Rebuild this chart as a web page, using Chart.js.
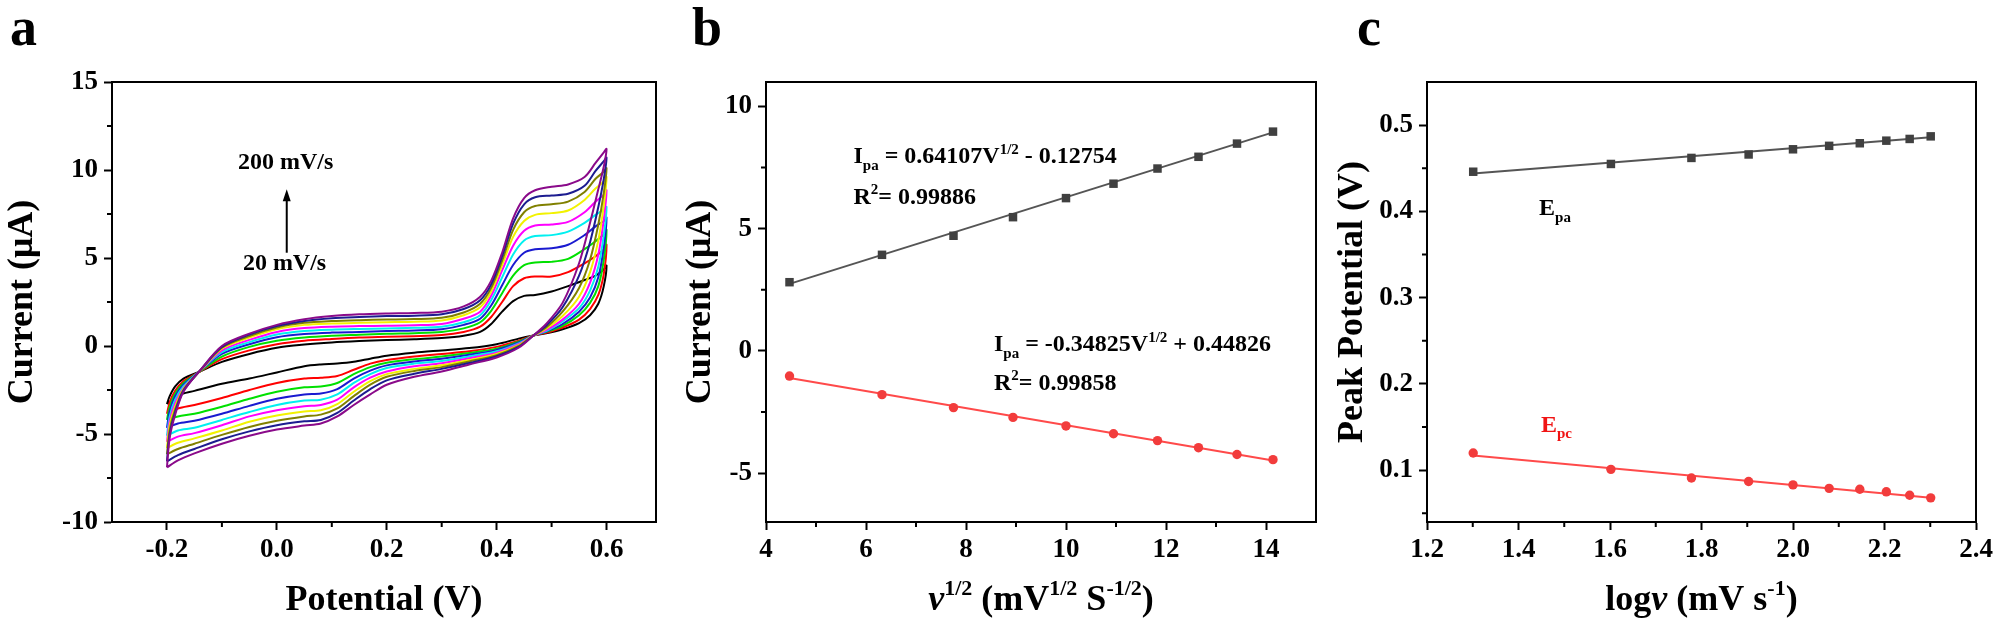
<!DOCTYPE html>
<html>
<head>
<meta charset="utf-8">
<script src="https://cdn.jsdelivr.net/npm/chart.js@4.4.1/dist/chart.umd.min.js"></script>
<style>
  body { margin: 0; background: #fff; }
  #wrap { position: relative; width: 1998px; height: 625px; }
  canvas { position: absolute; top: 0; }
</style>
</head>
<body>
<div id="wrap">
  <canvas id="cva" width="666" height="625" style="left:0px"></canvas>
  <canvas id="cvb" width="666" height="625" style="left:666px"></canvas>
  <canvas id="cvc" width="666" height="625" style="left:1332px"></canvas>
</div>
<script>
// ---- panel a : cyclic voltammograms 20..200 mV/s ----
const scanRates = [20, 40, 60, 80, 100, 120, 140, 160, 180, 200];
const cvColors = ['#000000', '#ff0000', '#00e000', '#1a1ad0', '#00f0f0', '#ff00ff', '#f2f200', '#808000', '#1c1c90', '#8a0a8a'];

// potentials of the forward (anodic) and reverse (cathodic) sweeps
const potentialFwd = [-0.2, -0.195, -0.185, -0.17, -0.14, -0.1, -0.05, 0.0, 0.05, 0.1, 0.15, 0.2, 0.25, 0.3, 0.34, 0.37, 0.39, 0.41, 0.43, 0.45, 0.47, 0.5, 0.53, 0.56, 0.58, 0.595, 0.6];
const potentialRev = [0.595, 0.585, 0.57, 0.55, 0.52, 0.49, 0.467, 0.44, 0.4, 0.35, 0.3, 0.25, 0.2, 0.17, 0.14, 0.11, 0.08, 0.05, 0.0, -0.05, -0.1, -0.15, -0.18, -0.2];

const fwd20  = [-3.3, -2.85, -2.3, -1.85, -1.45, -0.9, -0.45, -0.1, 0.08, 0.2, 0.28, 0.34, 0.38, 0.45, 0.58, 0.8, 1.25, 1.95, 2.55, 2.85, 2.9, 3.1, 3.4, 3.75, 4.0, 4.35, 4.57];
const fwd40  = [-3.85, -3.2, -2.55, -2.0, -1.45, -0.75, -0.25, 0.1, 0.3, 0.4, 0.48, 0.52, 0.56, 0.62, 0.8, 1.1, 1.65, 2.5, 3.4, 3.85, 3.95, 3.95, 4.2, 4.7, 5.1, 5.5, 5.75];
const fwd60  = [-4.2, -3.45, -2.7, -2.1, -1.45, -0.6, -0.05, 0.3, 0.48, 0.58, 0.64, 0.7, 0.73, 0.8, 1.0, 1.35, 2.0, 3.0, 4.0, 4.6, 4.75, 4.78, 4.95, 5.5, 5.95, 6.35, 6.6];
const fwd80  = [-4.65, -3.7, -2.85, -2.2, -1.42, -0.45, 0.1, 0.5, 0.68, 0.76, 0.8, 0.85, 0.88, 0.95, 1.2, 1.55, 2.3, 3.45, 4.6, 5.3, 5.5, 5.55, 5.75, 6.3, 6.8, 7.1, 7.3];
const fwd100 = [-5.1, -4.0, -3.05, -2.3, -1.42, -0.35, 0.22, 0.65, 0.85, 0.93, 0.97, 1.0, 1.03, 1.1, 1.35, 1.75, 2.6, 3.9, 5.2, 6.0, 6.25, 6.3, 6.5, 7.0, 7.45, 7.75, 7.9];
const fwd120 = [-5.45, -4.25, -3.25, -2.4, -1.42, -0.25, 0.35, 0.8, 1.02, 1.1, 1.13, 1.15, 1.18, 1.25, 1.55, 1.95, 2.85, 4.3, 5.7, 6.55, 6.85, 6.9, 7.05, 7.6, 8.2, 8.6, 8.85];
const fwd140 = [-5.8, -4.5, -3.45, -2.45, -1.42, -0.15, 0.48, 0.95, 1.2, 1.28, 1.32, 1.35, 1.38, 1.45, 1.75, 2.2, 3.1, 4.6, 6.2, 7.1, 7.45, 7.55, 7.7, 8.3, 8.95, 9.35, 9.6];
const fwd160 = [-6.15, -4.75, -3.6, -2.5, -1.41, -0.1, 0.56, 1.05, 1.32, 1.42, 1.47, 1.5, 1.53, 1.6, 1.9, 2.4, 3.3, 4.85, 6.6, 7.6, 7.95, 8.05, 8.2, 8.75, 9.5, 9.9, 10.1];
const fwd180 = [-6.55, -5.0, -3.75, -2.55, -1.4, -0.05, 0.65, 1.13, 1.42, 1.58, 1.65, 1.7, 1.72, 1.8, 2.1, 2.6, 3.5, 5.1, 6.95, 8.05, 8.45, 8.55, 8.65, 9.1, 9.95, 10.5, 10.7];
const fwd200 = [-6.9, -5.2, -3.9, -2.6, -1.4, 0.0, 0.7, 1.2, 1.52, 1.7, 1.8, 1.85, 1.88, 1.95, 2.25, 2.8, 3.7, 5.3, 7.25, 8.4, 8.85, 9.05, 9.18, 9.6, 10.4, 11.0, 11.2];

const rev20  = [3.4, 2.4, 1.75, 1.3, 0.95, 0.72, 0.6, 0.42, 0.1, -0.12, -0.25, -0.38, -0.55, -0.72, -0.9, -1.0, -1.05, -1.15, -1.5, -1.85, -2.15, -2.55, -2.8, -3.3];
const rev40  = [4.1, 2.9, 2.1, 1.5, 1.05, 0.75, 0.6, 0.3, -0.05, -0.3, -0.45, -0.6, -0.8, -1.0, -1.35, -1.7, -1.8, -1.85, -2.1, -2.5, -2.95, -3.35, -3.55, -3.85];
const rev60  = [4.9, 3.4, 2.45, 1.75, 1.15, 0.8, 0.6, 0.25, -0.15, -0.4, -0.6, -0.75, -0.95, -1.2, -1.6, -2.1, -2.3, -2.35, -2.6, -3.0, -3.45, -3.85, -4.0, -4.2];
const rev80  = [5.6, 3.9, 2.75, 1.95, 1.25, 0.82, 0.6, 0.2, -0.22, -0.5, -0.72, -0.88, -1.1, -1.4, -1.85, -2.45, -2.7, -2.75, -3.0, -3.4, -3.85, -4.25, -4.4, -4.65];
const rev100 = [6.3, 4.5, 3.15, 2.15, 1.4, 0.85, 0.6, 0.15, -0.3, -0.6, -0.85, -1.0, -1.25, -1.6, -2.1, -2.75, -3.05, -3.1, -3.35, -3.75, -4.2, -4.65, -4.8, -5.1];
const rev120 = [7.2, 5.2, 3.6, 2.4, 1.5, 0.9, 0.6, 0.1, -0.38, -0.7, -0.98, -1.15, -1.45, -1.8, -2.35, -3.05, -3.35, -3.42, -3.65, -4.0, -4.5, -4.95, -5.15, -5.45];
const rev140 = [8.0, 6.0, 4.2, 2.8, 1.7, 0.98, 0.6, 0.05, -0.45, -0.8, -1.1, -1.3, -1.6, -2.0, -2.6, -3.3, -3.65, -3.72, -3.95, -4.3, -4.8, -5.25, -5.5, -5.8];
const rev160 = [8.7, 6.9, 4.9, 3.3, 1.95, 1.05, 0.6, 0.0, -0.52, -0.88, -1.2, -1.42, -1.75, -2.2, -2.85, -3.55, -3.9, -4.0, -4.25, -4.6, -5.05, -5.55, -5.85, -6.15];
const rev180 = [9.5, 7.9, 5.9, 4.0, 2.2, 1.15, 0.6, -0.05, -0.58, -0.97, -1.3, -1.58, -1.95, -2.45, -3.1, -3.8, -4.2, -4.28, -4.5, -4.85, -5.3, -5.85, -6.2, -6.55];
const rev200 = [10.2, 8.9, 7.0, 4.7, 2.45, 1.25, 0.6, -0.1, -0.65, -1.05, -1.45, -1.75, -2.2, -2.75, -3.35, -4.0, -4.4, -4.52, -4.75, -5.1, -5.55, -6.1, -6.5, -6.9];

const cvFwd = [fwd20, fwd40, fwd60, fwd80, fwd100, fwd120, fwd140, fwd160, fwd180, fwd200];
const cvRev = [rev20, rev40, rev60, rev80, rev100, rev120, rev140, rev160, rev180, rev200];

const aTicksX = [-0.2, 0.0, 0.2, 0.4, 0.6];
const aMinorX = [-0.1, 0.1, 0.3, 0.5];
const aTicksY = [-10, -5, 0, 5, 10, 15];
const aMinorY = [-7.5, -2.5, 2.5, 7.5, 12.5];

// ---- panel b : peak current vs sqrt(scan rate) ----
const sqrtRate = [4.47, 6.32, 7.75, 8.94, 10.0, 10.95, 11.83, 12.65, 13.42, 14.14];
const ipa = [2.81, 3.93, 4.71, 5.47, 6.25, 6.84, 7.46, 7.94, 8.48, 8.97];
const ipc = [-1.03, -1.79, -2.32, -2.72, -3.07, -3.39, -3.67, -3.96, -4.24, -4.45];
const fitSqrtX = [4.47, 14.14];
const ipaFit = [2.74, 8.94];
const ipcFit = [-1.11, -4.48];
const bTicksX = [4, 6, 8, 10, 12, 14];
const bMinorX = [5, 7, 9, 11, 13];
const bTicksY = [-5, 0, 5, 10];
const bMinorY = [-2.5, 2.5, 7.5];

// ---- panel c : peak potential vs log(scan rate) ----
const logRate = [1.301, 1.602, 1.778, 1.903, 2.0, 2.079, 2.146, 2.204, 2.255, 2.301];
const epa = [0.446, 0.455, 0.462, 0.466, 0.472, 0.476, 0.479, 0.482, 0.484, 0.487];
const epc = [0.120, 0.101, 0.091, 0.087, 0.083, 0.079, 0.078, 0.075, 0.071, 0.068];
const fitLogX = [1.301, 2.301];
const epaFit = [0.444, 0.486];
const epcFit = [0.117, 0.068];
const cTicksX = [1.2, 1.4, 1.6, 1.8, 2.0, 2.2, 2.4];
const cMinorX = [1.3, 1.5, 1.7, 1.9, 2.1, 2.3];
const cTicksY = [0.1, 0.2, 0.3, 0.4, 0.5];
const cMinorY = [0.05, 0.15, 0.25, 0.35, 0.45];

const SERIF = '"Liberation Serif", "Times New Roman", serif';
Chart.defaults.font.family = SERIF;
Chart.defaults.color = '#000';

function pts(xs, ys) { return xs.map((x, i) => ({ x: x, y: ys[i] })); }

// text with sub/superscripts: parts = [[text, kind]]
function richFont(kind, size) {
  const small = kind === 'sub' || kind === 'sup';
  return (kind === 'i' ? 'italic ' : '') + 'bold ' + (small ? Math.round(size * 0.62) : size) + 'px ' + SERIF;
}
function drawRich(ctx, parts, x, cy, size, align) {
  const ws = parts.map(p => { ctx.font = richFont(p[1], size); return ctx.measureText(p[0]).width; });
  const total = ws.reduce((s, w) => s + w, 0);
  let cx = align === 'left' ? x : x - total / 2;
  const base = cy + size * 0.33;
  ctx.textBaseline = 'alphabetic';
  ctx.textAlign = 'left';
  parts.forEach((p, i) => {
    ctx.font = richFont(p[1], size);
    const dy = p[1] === 'sub' ? size * 0.28 : (p[1] === 'sup' ? -size * 0.4 : 0);
    ctx.fillText(p[0], cx, base + dy);
    cx += ws[i];
  });
}

function decor(spec) {
  return {
    id: 'decor',
    afterDraw(chart) {
      const ctx = chart.ctx, a = chart.chartArea, sx = chart.scales.x, sy = chart.scales.y;
      ctx.save();
      ctx.strokeStyle = '#000';
      ctx.lineWidth = 2;
      ctx.strokeRect(a.left, a.top, a.right - a.left, a.bottom - a.top);
      ctx.beginPath();
      spec.minorX.forEach(v => { const p = sx.getPixelForValue(v); ctx.moveTo(p, a.bottom); ctx.lineTo(p, a.bottom + 5); });
      spec.minorY.forEach(v => { const p = sy.getPixelForValue(v); ctx.moveTo(a.left, p); ctx.lineTo(a.left - 5, p); });
      ctx.stroke();

      ctx.fillStyle = '#000';
      ctx.font = 'bold 54px ' + SERIF;
      ctx.textBaseline = 'alphabetic';
      ctx.fillText(spec.letter, spec.letterX, 45);

      drawRich(ctx, spec.xTitle, (a.left + a.right) / 2, 598, 36, 'center');
      ctx.save();
      ctx.translate(spec.yTitleX, (a.top + a.bottom) / 2);
      ctx.rotate(-Math.PI / 2);
      drawRich(ctx, spec.yTitle, 0, 0, 36, 'center');
      ctx.restore();

      (spec.notes || []).forEach(n => {
        ctx.fillStyle = n.color || '#000';
        drawRich(ctx, n.parts, sx.getPixelForValue(n.x), sy.getPixelForValue(n.y), 24, n.align || 'left');
      });

      if (spec.arrow) {
        const ax = sx.getPixelForValue(spec.arrow.x);
        const y0 = sy.getPixelForValue(spec.arrow.y[0]);
        const y1 = sy.getPixelForValue(spec.arrow.y[1]);
        ctx.fillStyle = '#000';
        ctx.beginPath();
        ctx.moveTo(ax, y0);
        ctx.lineTo(ax, y1 + 10);
        ctx.stroke();
        ctx.beginPath();
        ctx.moveTo(ax, y1);
        ctx.lineTo(ax - 4, y1 + 12);
        ctx.lineTo(ax + 4, y1 + 12);
        ctx.closePath();
        ctx.fill();
      }
      ctx.restore();
    }
  };
}

function xAxis(min, max, ticks, fmt) {
  return {
    type: 'linear', min: min, max: max,
    afterBuildTicks: s => { s.ticks = ticks.map(v => ({ value: v })); },
    afterFit: s => { s.height = 103; },
    ticks: { callback: v => fmt(v), font: { size: 27, weight: 'bold' }, color: '#000', padding: 4, maxRotation: 0, autoSkip: false },
    grid: { drawOnChartArea: false, drawTicks: true, tickLength: 8, tickWidth: 2, tickColor: '#000' },
    border: { display: true, width: 2, color: '#000' }
  };
}
function yAxis(min, max, ticks, fmt, width) {
  return {
    type: 'linear', min: min, max: max,
    afterBuildTicks: s => { s.ticks = ticks.map(v => ({ value: v })); },
    afterFit: s => { s.width = width; },
    ticks: { callback: v => fmt(v), font: { size: 27, weight: 'bold' }, color: '#000', padding: 6, autoSkip: false },
    grid: { drawOnChartArea: false, drawTicks: true, tickLength: 8, tickWidth: 2, tickColor: '#000' },
    border: { display: true, width: 2, color: '#000' }
  };
}
function baseOptions(rightPad, scales) {
  return {
    responsive: false, animation: false, devicePixelRatio: 1,
    layout: { padding: { left: 0, right: rightPad, top: 82, bottom: 0 } },
    plugins: { legend: { display: false }, tooltip: { enabled: false } },
    scales: scales
  };
}

// panel a
const cvSets = scanRates.map((r, i) => ({
  label: r + ' mV/s',
  data: pts(potentialFwd, cvFwd[i]).concat(pts(potentialRev, cvRev[i])),
  showLine: true, borderColor: cvColors[i], borderWidth: 2, pointRadius: 0,
  tension: 0.3, fill: false, order: 10 - i
}));
new Chart(document.getElementById('cva'), {
  type: 'scatter',
  data: { datasets: cvSets },
  options: baseOptions(10, {
    x: xAxis(-0.3, 0.69, aTicksX, v => v.toFixed(1)),
    y: yAxis(-10, 15, aTicksY, v => String(v), 112)
  }),
  plugins: [decor({
    letter: 'a', letterX: 10, yTitleX: 20, minorX: aMinorX, minorY: aMinorY,
    xTitle: [['Potential (V)', '']],
    yTitle: [['Current (\u03bcA)', '']],
    notes: [
      { x: 0.016, y: 10.5, align: 'center', parts: [['200 mV/s', '']] },
      { x: 0.014, y: 4.75, align: 'center', parts: [['20 mV/s', '']] }
    ],
    arrow: { x: 0.018, y: [5.3, 8.9] }
  })]
});

// panel b
new Chart(document.getElementById('cvb'), {
  type: 'scatter',
  data: { datasets: [
    { data: pts(sqrtRate, ipa), pointStyle: 'rect', pointRadius: 6, backgroundColor: '#404040', borderColor: '#404040', borderWidth: 0, order: 0 },
    { data: pts(sqrtRate, ipc), pointStyle: 'circle', pointRadius: 4.7, backgroundColor: '#f23c3c', borderColor: '#f23c3c', borderWidth: 0, order: 0 },
    { data: pts(fitSqrtX, ipaFit), showLine: true, borderColor: '#555555', borderWidth: 2, pointRadius: 0, order: 1 },
    { data: pts(fitSqrtX, ipcFit), showLine: true, borderColor: '#ff4a4a', borderWidth: 2, pointRadius: 0, order: 1 }
  ] },
  options: baseOptions(16, {
    x: xAxis(4, 15, bTicksX, v => String(v)),
    y: yAxis(-7, 11, bTicksY, v => String(v), 100)
  }),
  plugins: [decor({
    letter: 'b', letterX: 26, yTitleX: 32, minorX: bMinorX, minorY: bMinorY,
    xTitle: [['\u03bd', 'i'], ['1/2', 'sup'], [' (mV', ''], ['1/2', 'sup'], [' S', ''], ['-1/2', 'sup'], [')', '']],
    yTitle: [['Current (\u03bcA)', '']],
    notes: [
      { x: 5.75, y: 8.0, parts: [['I', ''], ['pa', 'sub'], [' = 0.64107V', ''], ['1/2', 'sup'], [' - 0.12754', '']] },
      { x: 5.75, y: 6.33, parts: [['R', ''], ['2', 'sup'], ['= 0.99886', '']] },
      { x: 8.56, y: 0.31, parts: [['I', ''], ['pa', 'sub'], [' = -0.34825V', ''], ['1/2', 'sup'], [' + 0.44826', '']] },
      { x: 8.56, y: -1.28, parts: [['R', ''], ['2', 'sup'], ['= 0.99858', '']] }
    ]
  })]
});

// panel c
new Chart(document.getElementById('cvc'), {
  type: 'scatter',
  data: { datasets: [
    { data: pts(logRate, epa), pointStyle: 'rect', pointRadius: 6, backgroundColor: '#404040', borderColor: '#404040', borderWidth: 0, order: 0 },
    { data: pts(logRate, epc), pointStyle: 'circle', pointRadius: 4.7, backgroundColor: '#f23c3c', borderColor: '#f23c3c', borderWidth: 0, order: 0 },
    { data: pts(fitLogX, epaFit), showLine: true, borderColor: '#555555', borderWidth: 2, pointRadius: 0, order: 1 },
    { data: pts(fitLogX, epcFit), showLine: true, borderColor: '#ff4a4a', borderWidth: 2, pointRadius: 0, order: 1 }
  ] },
  options: baseOptions(22, {
    x: xAxis(1.2, 2.4, cTicksX, v => v.toFixed(1)),
    y: yAxis(0.04, 0.55, cTicksY, v => v.toFixed(1), 95)
  }),
  plugins: [decor({
    letter: 'c', letterX: 25, yTitleX: 18, minorX: cMinorX, minorY: cMinorY,
    xTitle: [['log', ''], ['\u03bd', 'i'], [' (mV s', ''], ['-1', 'sup'], [')', '']],
    yTitle: [['Peak Potential (V)', '']],
    notes: [
      { x: 1.445, y: 0.405, parts: [['E', ''], ['pa', 'sub']] },
      { x: 1.449, y: 0.154, color: '#f01414', parts: [['E', ''], ['pc', 'sub']] }
    ]
  })]
});
</script>
</body>
</html>
